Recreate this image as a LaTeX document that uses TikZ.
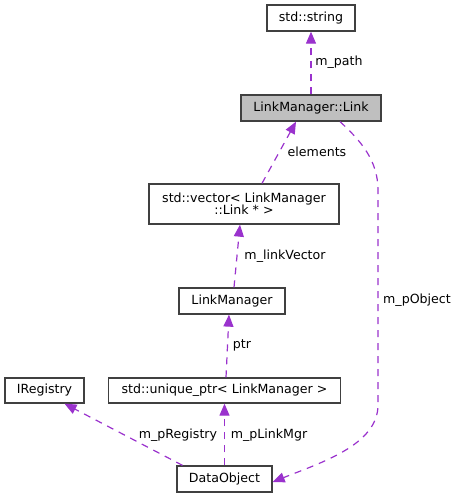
\documentclass[tikz,border=0pt]{standalone}
\usepackage{fontspec}
\setmainfont{DejaVu Sans}
\usetikzlibrary{arrows.meta}
\definecolor{edgecol}{HTML}{9A32CD}
\definecolor{boxgray}{HTML}{BFBFBF}
\tikzset{
  cls/.style={draw=black!75, line width=1.3pt, inner sep=2pt, font=\fontsize{12.6}{14}\selectfont, align=center},
  lbl/.style={inner sep=0pt, font=\fontsize{12.6}{14}\selectfont},
  rel/.style={draw=edgecol, line width=1.2pt, dash pattern=on 7pt off 6pt, -{Triangle[length=12pt,width=10pt]}}
}
\begin{document}
\begin{tikzpicture}[x=1pt,y=-1pt]
\useasboundingbox (0,0) rectangle (458,499);

% 类的方框
\node[cls, minimum width=88pt, minimum height=26pt] (str) at (311,18) {std::string};
\node[cls, fill=boxgray, minimum width=140pt, minimum height=26pt] (link) at (311,108) {LinkManager::Link};
\node[cls, minimum width=190pt, minimum height=40pt] (vec) at (244,204) {std::vector\textless{} LinkManager\\[-2pt]::Link * \textgreater{}};
\node[cls, minimum width=106pt, minimum height=26pt] (lm) at (232,301) {LinkManager};
\node[cls, minimum width=79pt, minimum height=25pt] (ireg) at (44.5,390.5) {IRegistry};
\node[cls, minimum width=232pt, minimum height=25pt] (uptr) at (224.5,390.5) {std::unique\_ptr\textless{} LinkManager \textgreater{}};
\node[cls, minimum width=95pt, minimum height=26pt] (dobj) at (224.5,479) {DataObject};

% 成员关系(虚线箭头)
\draw[rel] (link.north) -- (str.south);
\draw[rel] ([xshift=18pt]vec.north) -- ([xshift=-15pt]link.south);
\draw[rel] ([xshift=2pt]lm.north) -- ([xshift=-4pt]vec.south);
\draw[rel] ([xshift=1.5pt]uptr.north) -- ([xshift=-3pt]lm.south);
\draw[rel] ([xshift=-42pt]dobj.north) -- ([xshift=20pt]ireg.south);
\draw[rel] (dobj.north) -- (uptr.south);
\draw[rel] ([xshift=29pt]link.south) .. controls (360,140) and (378,160) .. (378,190)
  -- (378,405) .. controls (378,445) and (320,463) .. ([yshift=-3pt]dobj.east);

% 标签
\foreach \x/\y/\name/\txt in {339/62/lpath/m\_path, 317/152/lelem/elements, 285/256/lvec/m\_linkVector,
  242/345/lptr/ptr, 178/435/lreg/m\_pRegistry, 269/435/lmgr/m\_pLinkMgr, 417/300/lobj/m\_pObject}{
  \node[lbl] (\name) at (\x,\y) {\txt};
}
\end{tikzpicture}
\end{document}
